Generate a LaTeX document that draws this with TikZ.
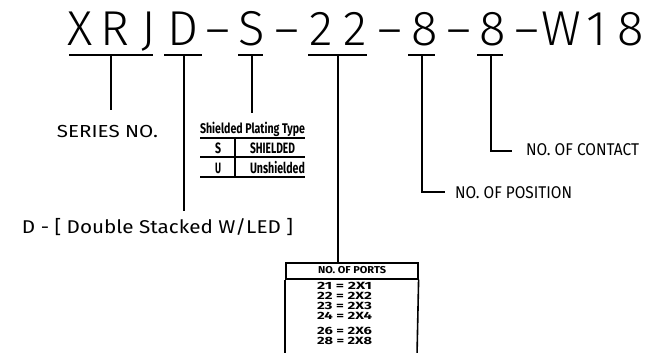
\documentclass[tikz,border=0pt]{standalone}
\usepackage{fontspec}
\usepackage{graphicx}
\setmainfont{Fira Sans}
\newfontfamily\lightf{Fira Sans Light}
\newcommand\cc[1]{\makebox[34.4pt][c]{#1}}
\newcommand\hy{\resizebox{31pt}{\height}{-}}
\newcommand\fitw[2]{\resizebox{#1}{\height}{#2}}
\newcommand\fs[1]{\fontsize{#1}{#1}\selectfont}
\begin{document}
\begin{tikzpicture}[x=1pt,y=-1pt,
  ln/.style={line width=1.3pt},
  boxln/.style={line width=1.6pt},
  txt/.style={inner sep=0pt, anchor=base}]
\useasboundingbox (0,0) rectangle (645,353);
% title
\node[inner sep=0pt, anchor=base west] (title) at (62.8,46)
  {\lightf\fs{49}\cc{X}\cc{R}\cc{J}\cc{D}\cc{\hy}\cc{S}\cc{\hy}\cc{2}\cc{2}\cc{\hy}\cc{8}\cc{\hy}\cc{8}\cc{\hy}\cc{W}\cc{1}\cc{8}};
% underline coordinates
\coordinate (ua1) at (69,55);  \coordinate (ua2) at (153,55);
\coordinate (ub1) at (164,55); \coordinate (ub2) at (202,55);
\coordinate (uc1) at (238,55); \coordinate (uc2) at (263,55);
\coordinate (ud1) at (308,55); \coordinate (ud2) at (367,55);
\coordinate (ue1) at (408,55); \coordinate (ue2) at (435,55);
\coordinate (uf1) at (477,55); \coordinate (uf2) at (503,55);
\draw[ln] (ua1) -- (ua2);
\draw[ln] (ub1) -- (ub2);
\draw[ln] (uc1) -- (uc2);
\draw[ln] (ud1) -- (ud2);
\draw[ln] (ue1) -- (ue2);
\draw[ln] (uf1) -- (uf2);
% vertical stems
\coordinate (va) at (111,55);  \coordinate (vae) at (111,110);
\coordinate (vb) at (184,55);  \coordinate (vbe) at (184,211);
\coordinate (vc) at (252,55);  \coordinate (vce) at (252,113);
\coordinate (vd) at (338,55);
\coordinate (ve) at (422,55);  \coordinate (vee) at (422,192);
\coordinate (vf) at (491,55);  \coordinate (vfe) at (491,151);
\draw[ln] (va) -- (vae);
\draw[ln] (vb) -- (vbe);
\draw[ln] (vc) -- (vce);
% labels
\node[txt] (series) at (107.5,137) {\fitw{101pt}{\fs{17.4}SERIES NO.}};
\node[txt] (dbl) at (157.5,233.5) {\fitw{271pt}{\fs{18.5}D - [ Double Stacked W/LED ]}};
\node[txt] (pos) at (513.5,198.3) {\fitw{117pt}{\fs{17}NO. OF POSITION}};
\node[txt] (cont) at (582.5,155.7) {\fitw{113pt}{\fs{17}NO. OF CONTACT}};
\coordinate (pe) at (445,192);
\coordinate (ce) at (512,151);
\draw[ln] (ve) -- (vee) -- (pe);
\draw[ln] (vf) -- (vfe) -- (ce);
% shielded plating table
\node[txt] (tt) at (252.5,133) {\fitw{105pt}{\bfseries\fs{14}Shielded Plating Type}};
\coordinate (tl1) at (200,138); \coordinate (tr1) at (305,138);
\coordinate (tl2) at (200,157); \coordinate (tr2) at (305,157);
\coordinate (tl3) at (200,177); \coordinate (tr3) at (305,177);
\coordinate (tdv) at (235,138); \coordinate (tdve) at (235,177);
\draw[ln] (tl1) -- (tr1);
\draw[ln] (tl2) -- (tr2);
\draw[ln] (tl3) -- (tr3);
\draw[ln] (tdv) -- (tdve);
\node[txt] (ts) at (218,153) {\fitw{6pt}{\bfseries\fs{15}S}};
\node[txt] (tsh) at (272.5,153) {\fitw{45pt}{\bfseries\fs{15}SHIELDED}};
\node[txt] (tu) at (218,173) {\fitw{6pt}{\bfseries\fs{15}U}};
\node[txt] (tun) at (277.5,173) {\fitw{55pt}{\bfseries\fs{15}Unshielded}};
% ports box
\node[draw, boxln, inner sep=0pt, minimum width=132pt, minimum height=16pt, anchor=north west] (ports) at (285,262) {};
\node[txt] (portsl) at (352,273.3) {\fitw{68pt}{\bfseries\fs{10}NO. OF PORTS}};
\coordinate (pbl) at (285,356); \coordinate (pbr) at (417,356);
\draw[boxln] (ports.south west) -- (pbl);
\draw[boxln] (ports.south east) -- (pbr);
\draw[ln] (vd) -- (vd |- ports.north);
\node[txt] (r1) at (344.5,289)   {\fitw{55pt}{\bfseries\fs{10.5}21 = 2X1}};
\node[txt] (r2) at (344.5,299)   {\fitw{55pt}{\bfseries\fs{10.5}22 = 2X2}};
\node[txt] (r3) at (344.5,309.3) {\fitw{55pt}{\bfseries\fs{10.5}23 = 2X3}};
\node[txt] (r4) at (344.5,319.3) {\fitw{55pt}{\bfseries\fs{10.5}24 = 2X4}};
\node[txt] (r5) at (344.5,334.3) {\fitw{55pt}{\bfseries\fs{10.5}26 = 2X6}};
\node[txt] (r6) at (344.5,344.3) {\fitw{55pt}{\bfseries\fs{10.5}28 = 2X8}};
\end{tikzpicture}
\end{document}
